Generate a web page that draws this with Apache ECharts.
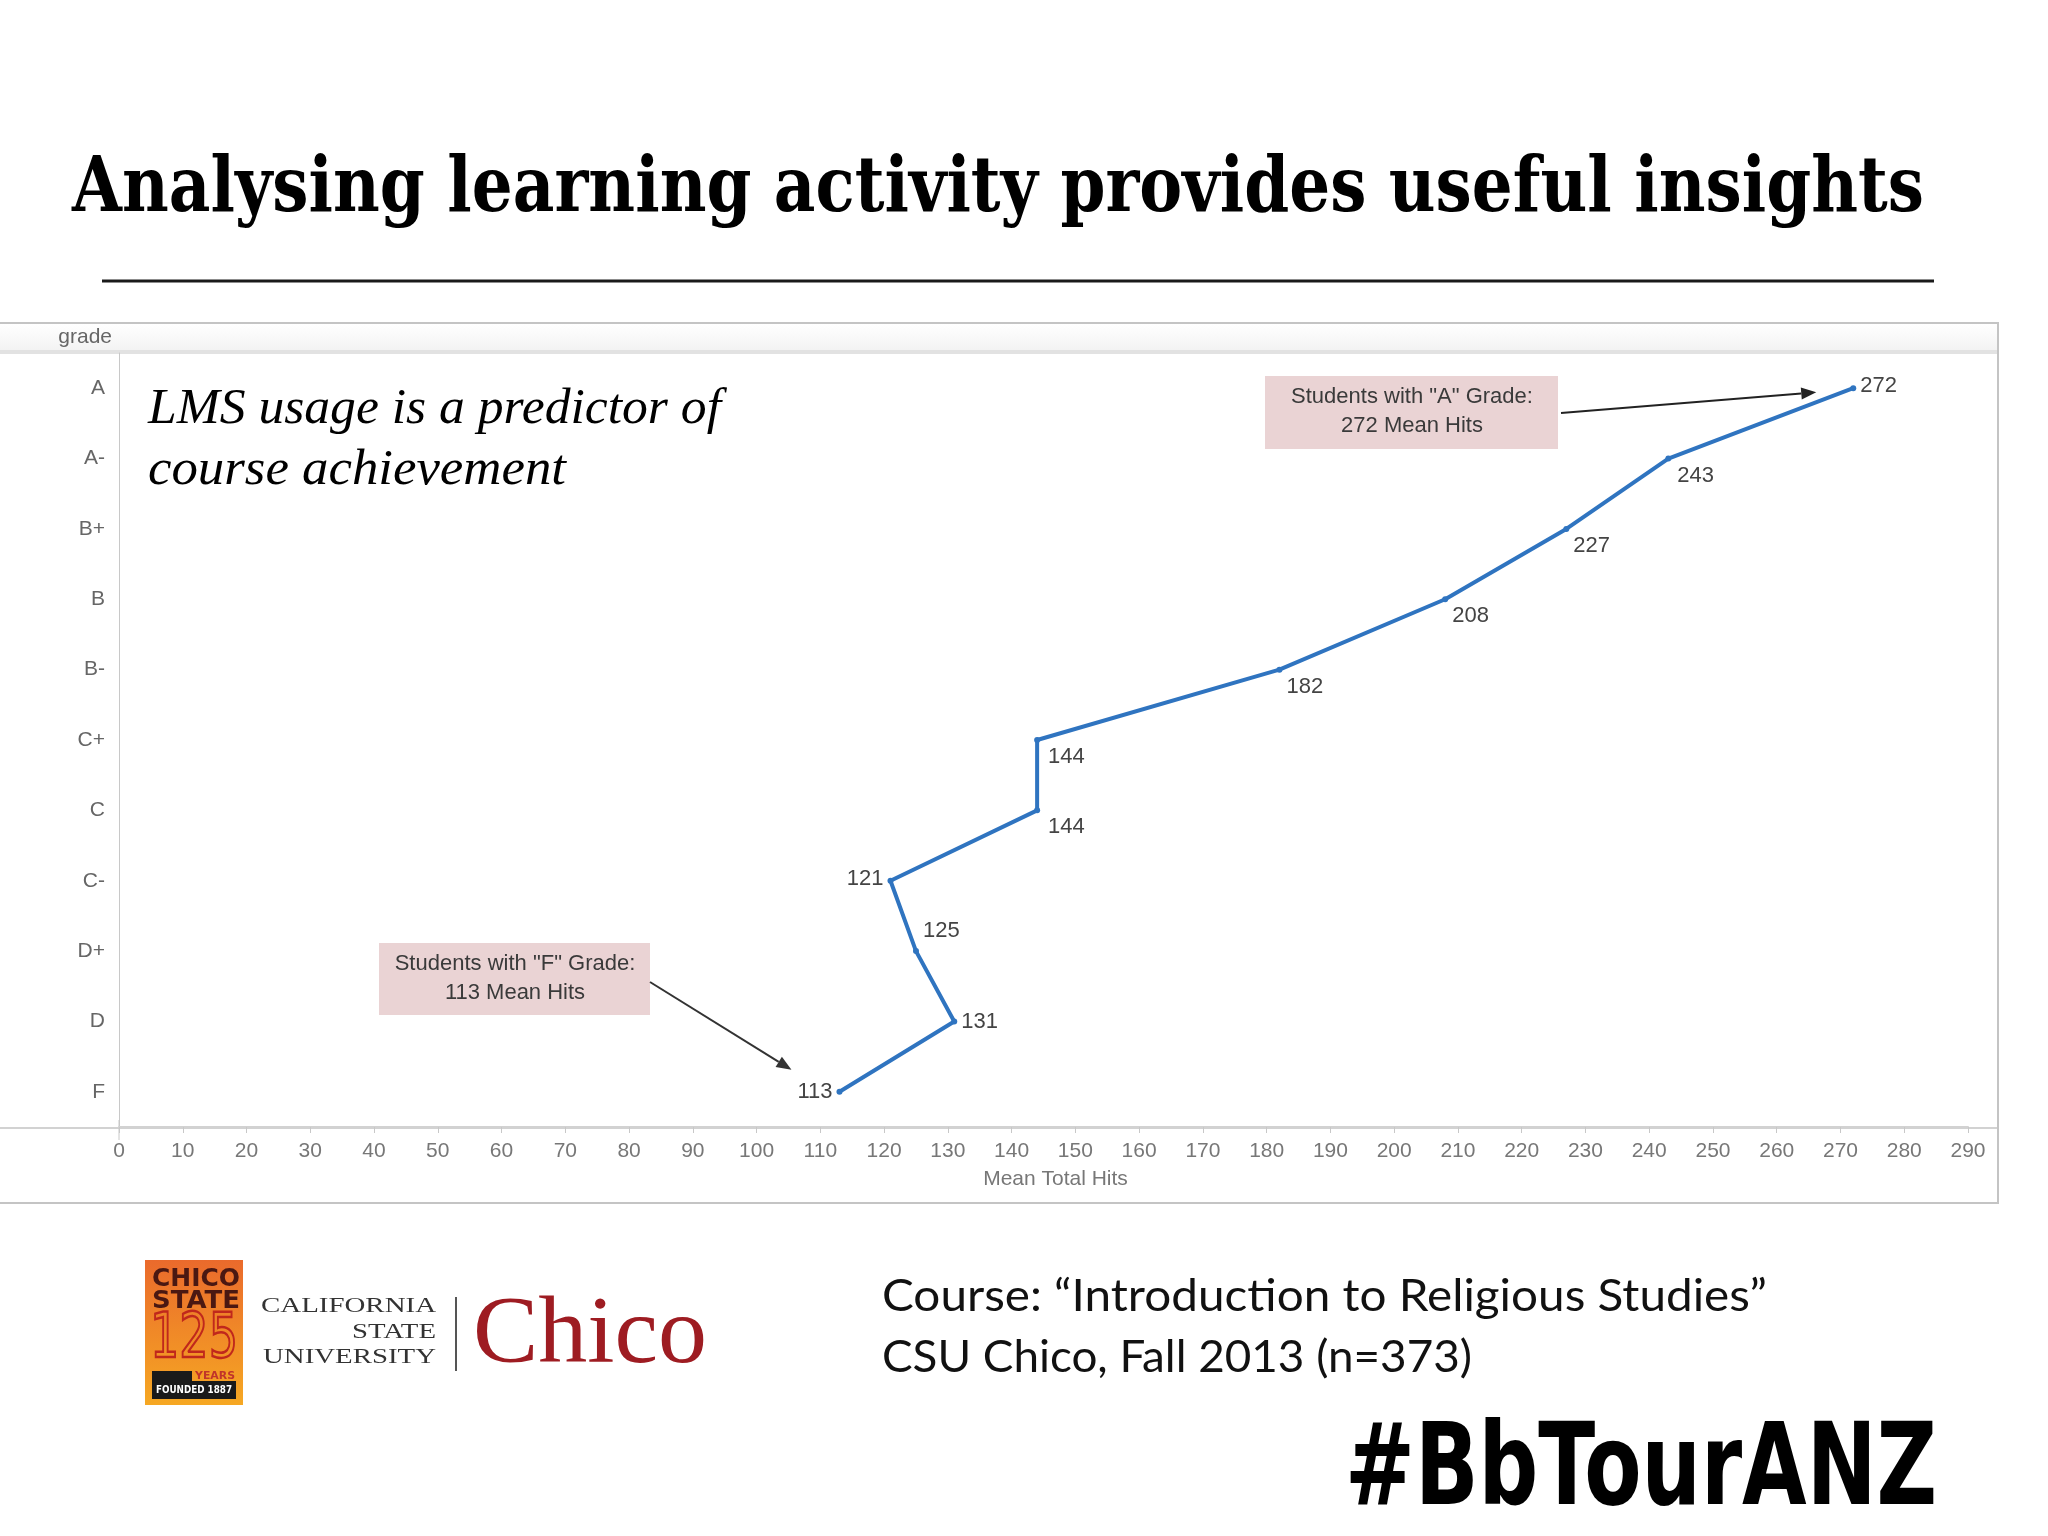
<!DOCTYPE html>
<html>
<head>
<meta charset="utf-8">
<script src="https://cdn.jsdelivr.net/npm/echarts@6/dist/echarts.min.js"></script>
<style>
html,body{margin:0;padding:0;background:#fff;}
#chart{width:2048px;height:1536px;}
</style>
</head>
<body>
<div id="chart"></div>
<script>
// ---- data ----
const grades = ['F', 'D', 'D+', 'C-', 'C', 'C+', 'B-', 'B', 'B+', 'A-', 'A'];
const meanHits = [113, 131, 125, 121, 144, 144, 182, 208, 227, 243, 272];
const xMin = 0, xMax = 290, xStep = 10;
const titleText = 'Analysing learning activity provides useful insights';
const subtitleLines = ['LMS usage is a predictor of', 'course achievement'];
const noteA = ['Students with "A" Grade:', '272 Mean Hits'];
const noteF = ['Students with "F" Grade:', '113 Mean Hits'];
const courseLines = ['Course: \u201cIntroduction to Religious Studies\u201d', 'CSU Chico, Fall 2013 (n=373)'];
const hashtag = '#BbTourANZ';

// ---- label placement (style, not data) ----
const labelPlace = {
  'F':  {position: 'left',  offset: [0, 0]},
  'D':  {position: 'right', offset: [0, 0]},
  'D+': {position: 'right', offset: [0, -20]},
  'C-': {position: 'left',  offset: [0, -2]},
  'C':  {position: 'right', offset: [4, 17]},
  'C+': {position: 'right', offset: [4, 17]},
  'B-': {position: 'right', offset: [0, 17]},
  'B':  {position: 'right', offset: [0, 17]},
  'B+': {position: 'right', offset: [0, 17]},
  'A-': {position: 'right', offset: [2, 17]},
  'A':  {position: 'right', offset: [0, -2]}
};

const SANS = "'Liberation Sans Narrow', 'Liberation Sans', Arial, sans-serif";
const chart = echarts.init(document.getElementById('chart'), null, {renderer: 'canvas'});

const seriesData = meanHits.map((v, i) => ({
  value: [v, i],
  label: Object.assign({show: true}, labelPlace[grades[i]])
}));

const option = {
  backgroundColor: '#ffffff',
  animation: false,
  grid: {left: 119, top: 353, width: 1849, height: 774, containLabel: false},
  xAxis: {
    type: 'value', min: xMin, max: xMax, interval: xStep,
    name: 'Mean Total Hits', nameLocation: 'middle', nameGap: 42,
    nameTextStyle: {color: '#777', fontSize: 21, fontFamily: SANS, padding: [0, 0, 0, 24]},
    axisLine: {show: true, lineStyle: {color: '#d2d2d2', width: 2}},
    axisTick: {show: true, length: 6, lineStyle: {color: '#c8c8c8', width: 1}},
    axisLabel: {color: '#777', fontSize: 21, fontFamily: SANS, margin: 14},
    splitLine: {show: false}
  },
  yAxis: {
    type: 'category', data: grades, boundaryGap: true,
    name: 'grade', nameLocation: 'end', nameGap: 5,
    nameTextStyle: {color: '#666', fontSize: 21, fontFamily: SANS, align: 'right', padding: [0, 7, 0, 0]},
    axisLine: {show: true, lineStyle: {color: '#c8c8c8', width: 1}},
    axisTick: {show: false},
    axisLabel: {color: '#666', fontSize: 21, fontFamily: SANS, margin: 14},
    splitLine: {show: false}
  },
  series: [{
    type: 'line',
    data: seriesData,
    symbol: 'circle', symbolSize: 6,
    itemStyle: {color: '#2f74c0'},
    lineStyle: {color: '#2f74c0', width: 4},
    label: {color: '#444', fontSize: 22, fontFamily: SANS, distance: 4},
    z: 5
  }]
};
chart.setOption(option);

// ---- helpers ----
const mctx = document.createElement('canvas').getContext('2d');
function measure(text, font) { mctx.font = font; return mctx.measureText(text).width; }
function fitText(text, x, y, size, family, weight, style, fill, targetW, z) {
  const font = (style || 'normal') + ' ' + (weight || 'normal') + ' ' + size + 'px ' + family;
  const s = targetW ? targetW / measure(text, font) : 1;
  return {type: 'text', x: x, y: y, scaleX: s, z: z || 10,
    style: {text: text, x: 0, y: 0, fontSize: size, fontFamily: family, fontWeight: weight || 'normal',
      fontStyle: style || 'normal', fill: fill, align: 'left', verticalAlign: 'middle'}};
}
function arrow(x1, y1, x2, y2, color) {
  const ang = Math.atan2(y2 - y1, x2 - x1);
  const L = 15, W = 6;
  const bx = x2 - L * Math.cos(ang), by = y2 - L * Math.sin(ang);
  const px = -Math.sin(ang) * W, py = Math.cos(ang) * W;
  return [
    {type: 'line', z: 8, shape: {x1: x1, y1: y1, x2: bx, y2: by}, style: {stroke: color, lineWidth: 2}},
    {type: 'polygon', z: 8, shape: {points: [[x2, y2], [bx + px, by + py], [bx - px, by - py]]}, style: {fill: color}}
  ];
}

const pA = chart.convertToPixel({gridIndex: 0}, [meanHits[10], 10]);
const pF = chart.convertToPixel({gridIndex: 0}, [meanHits[0], 0]);

const SERIF = "'DejaVu Serif', serif";
const g = [];
// chart panel
g.push({type: 'rect', z: -10, shape: {x: -2, y: 323, width: 2000, height: 880}, style: {fill: '#fff', stroke: '#c4c4c4', lineWidth: 2}});
g.push({type: 'rect', z: -9, shape: {x: 0, y: 324, width: 1997, height: 28},
  style: {fill: new echarts.graphic.LinearGradient(0, 0, 0, 1, [{offset: 0, color: '#ffffff'}, {offset: 1, color: '#f2f2f2'}])}});
g.push({type: 'line', z: -8, shape: {x1: 0, y1: 352, x2: 1997, y2: 352}, style: {stroke: '#e2e2e2', lineWidth: 4}});
g.push({type: 'line', z: -8, shape: {x1: 0, y1: 1128, x2: 1997, y2: 1128}, style: {stroke: '#d2d2d2', lineWidth: 2}});
g.push({type: 'line', z: -8, shape: {x1: 119, y1: 1120, x2: 119, y2: 1140}, style: {stroke: '#c8c8c8', lineWidth: 1}});

// title and rule
g.push(fitText(titleText, 72, 191, 76, SERIF, 'bold', 'normal', '#000', 1852));
g.push({type: 'line', shape: {x1: 102, y1: 281, x2: 1934, y2: 281}, style: {stroke: '#1a1a1a', lineWidth: 3}});

// subtitle
g.push(fitText(subtitleLines[0], 148, 410, 50, "'Liberation Serif', serif", 'normal', 'italic', '#000', 573));
g.push(fitText(subtitleLines[1], 148, 471, 50, "'Liberation Serif', serif", 'normal', 'italic', '#000', 418));

// annotation A
g.push({type: 'rect', z: 6, shape: {x: 1265, y: 376, width: 293, height: 73}, style: {fill: '#ead3d4'}});
g.push({type: 'text', z: 7, x: 1412, y: 397, style: {text: noteA[0], fontSize: 22, fontFamily: SANS, fill: '#3a3a3a', align: 'center', verticalAlign: 'middle'}});
g.push({type: 'text', z: 7, x: 1412, y: 426, style: {text: noteA[1], fontSize: 22, fontFamily: SANS, fill: '#3a3a3a', align: 'center', verticalAlign: 'middle'}});
arrow(1561, 413, pA[0] - 37, pA[1] + 4, '#222').forEach(e => g.push(e));

// annotation F
g.push({type: 'rect', z: 6, shape: {x: 379, y: 943, width: 271, height: 72}, style: {fill: '#ead3d4'}});
g.push({type: 'text', z: 7, x: 515, y: 964, style: {text: noteF[0], fontSize: 22, fontFamily: SANS, fill: '#3a3a3a', align: 'center', verticalAlign: 'middle'}});
g.push({type: 'text', z: 7, x: 515, y: 993, style: {text: noteF[1], fontSize: 22, fontFamily: SANS, fill: '#3a3a3a', align: 'center', verticalAlign: 'middle'}});
arrow(650, 982, pF[0] - 48, pF[1] - 22, '#333').forEach(e => g.push(e));

// Chico State logo block
g.push({type: 'rect', shape: {x: 145, y: 1260, width: 98, height: 145},
  style: {fill: new echarts.graphic.LinearGradient(0, 0, 0, 1, [{offset: 0, color: '#ea6a2c'}, {offset: 1, color: '#f6a823'}])}});
g.push(fitText('CHICO', 152, 1280, 24, "'DejaVu Sans'", 'bold', 'normal', '#4a1812', 88, 11));
g.push(fitText('STATE', 152, 1302, 24, "'DejaVu Sans'", 'bold', 'normal', '#4a1812', 88, 11));
g.push(fitText('125', 150, 1341, 62, "'DejaVu Sans'", 'normal', 'normal', 'rgba(0,0,0,0)', 88, 11));
g[g.length - 1].style.stroke = '#c0281c'; g[g.length - 1].style.lineWidth = 2.5;
g.push({type: 'rect', shape: {x: 152, y: 1371, width: 40, height: 10}, style: {fill: '#1a1a1a'}});
g.push({type: 'rect', shape: {x: 152, y: 1381, width: 84, height: 18}, style: {fill: '#1a1a1a'}});
g.push(fitText('YEARS', 195, 1376, 11, "'DejaVu Sans'", 'bold', 'normal', '#c0342a', 40, 11));
g.push(fitText('FOUNDED 1887', 156, 1390, 10, "'DejaVu Sans'", 'bold', 'normal', '#ffffff', 76, 11));
// CSU text
g.push(fitText('CALIFORNIA', 261, 1307, 20, "'Liberation Serif', serif", 'normal', 'normal', '#333', 175));
g.push(fitText('STATE', 352, 1333, 20, "'Liberation Serif', serif", 'normal', 'normal', '#333', 84));
g.push(fitText('UNIVERSITY', 263, 1358, 20, "'Liberation Serif', serif", 'normal', 'normal', '#333', 173));
g.push({type: 'line', shape: {x1: 456, y1: 1297, x2: 456, y2: 1371}, style: {stroke: '#555', lineWidth: 2}});
g.push(fitText('Chico', 473, 1337, 96, "'Liberation Serif', serif", 'normal', 'normal', '#9e1c22', 234));

// course text
g.push(fitText(courseLines[0], 882, 1297, 44, "Lato, 'Open Sans', sans-serif", 'normal', 'normal', '#111', 885));
g.push(fitText(courseLines[1], 882, 1358, 44, "Lato, 'Open Sans', sans-serif", 'normal', 'normal', '#111', 590));

// hashtag
g.push(fitText(hashtag, 1345, 1474, 114, "'DejaVu Sans'", 'bold', 'normal', '#000', 592));

chart.setOption({graphic: {elements: g}});
</script>
</body>
</html>
